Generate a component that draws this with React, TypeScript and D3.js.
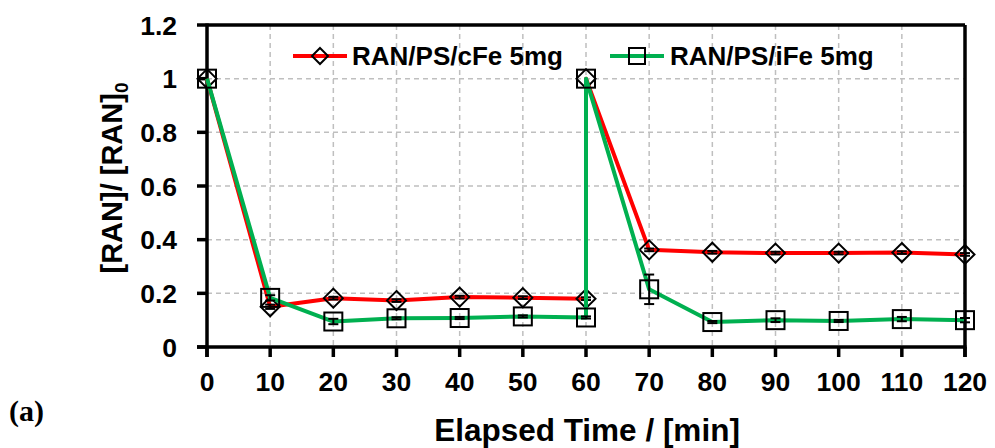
import React from "react";
import * as d3 from "d3";

const timesCFe = [0, 10, 20, 30, 40, 50, 60, 60, 70, 80, 90, 100, 110, 120];
const valuesCFe = [1, 0.15, 0.182, 0.173, 0.186, 0.184, 0.18, 1, 0.362, 0.353, 0.35, 0.35, 0.352, 0.345];
const errorsCFe = [0, 0.008, 0.005, 0.005, 0.005, 0.005, 0.005, 0, 0.005, 0.005, 0.005, 0.005, 0.005, 0.005];

const timesIFe = [0, 10, 20, 30, 40, 50, 60, 60, 70, 80, 90, 100, 110, 120];
const valuesIFe = [1, 0.183, 0.095, 0.107, 0.108, 0.114, 0.11, 1, 0.215, 0.093, 0.1, 0.097, 0.104, 0.1];
const errorsIFe = [0, 0.01, 0.01, 0.004, 0.004, 0.004, 0.004, 0, 0.055, 0.004, 0.007, 0.004, 0.008, 0.008];

const xTicks = [0, 10, 20, 30, 40, 50, 60, 70, 80, 90, 100, 110, 120];
const yTicks = [0, 0.2, 0.4, 0.6, 0.8, 1, 1.2];
const yTickLabels = ["0", "0.2", "0.4", "0.6", "0.8", "1", "1.2"];
const seriesNames = ["RAN/PS/cFe 5mg", "RAN/PS/iFe 5mg"];

const W = 995;
const H = 448;
const left = 207;
const right = 965;
const top = 25;
const bottom = 347;

export default function App() {
  const x = d3.scaleLinear().domain([0, 120]).range([left, right]);
  const y = d3.scaleLinear().domain([0, 1.2]).range([bottom, top]);
  const line = d3
    .line<[number, number]>()
    .x((d) => x(d[0]))
    .y((d) => y(d[1]));

  const red = "#FF0000";
  const green = "#00B050";
  const font = "Arial, 'Liberation Sans', sans-serif";

  const ptsC: [number, number][] = timesCFe.map((t, i) => [t, valuesCFe[i]]);
  const ptsI: [number, number][] = timesIFe.map((t, i) => [t, valuesIFe[i]]);

  const diamond = (cx: number, cy: number, r: number) =>
    `M${cx},${cy - r}L${cx + r},${cy}L${cx},${cy + r}L${cx - r},${cy}Z`;

  const errBar = (t: number, v: number, e: number, key: string) => {
    if (e <= 0) return null;
    const cx = x(t);
    const y1 = y(v + e);
    const y2 = y(v - e);
    return (
      <g key={key} stroke="#000" strokeWidth={2}>
        <line x1={cx} x2={cx} y1={y1} y2={y2} />
        <line x1={cx - 5} x2={cx + 5} y1={y1} y2={y1} />
        <line x1={cx - 5} x2={cx + 5} y1={y2} y2={y2} />
      </g>
    );
  };

  return (
    <svg
      width={W}
      height={H}
      style={{ position: "absolute", left: 0, top: 0, background: "#fff" }}
    >
      <rect x={0} y={0} width={W} height={H} fill="#fff" />
      {/* grid */}
      <g stroke="#BFBFBF" strokeWidth={1.5} strokeDasharray="5,4">
        {xTicks.slice(1, -1).map((t) => (
          <line key={"gx" + t} x1={x(t)} x2={x(t)} y1={top} y2={bottom} />
        ))}
        {yTicks.slice(1, -1).map((t) => (
          <line key={"gy" + t} x1={left} x2={right} y1={y(t)} y2={y(t)} />
        ))}
      </g>
      {/* frame */}
      <g stroke="#000" strokeWidth={3.5} fill="none">
        <line x1={left} x2={right} y1={top} y2={top} />
        <line x1={right} x2={right} y1={top} y2={bottom + 10} />
        <line x1={left} x2={left} y1={top - 1.5} y2={bottom + 10} />
        <line x1={left - 10} x2={right + 1.5} y1={bottom} y2={bottom} />
        {xTicks.map((t) => (
          <line key={"tx" + t} x1={x(t)} x2={x(t)} y1={bottom} y2={bottom + 10} />
        ))}
        {yTicks.map((t) => (
          <line key={"ty" + t} x1={left - 10} x2={left} y1={y(t)} y2={y(t)} />
        ))}
      </g>
      {/* tick labels */}
      <g fontFamily={font} fontWeight="bold" fontSize={26.5} fill="#000">
        {yTicks.map((t, i) => (
          <text key={"ly" + t} x={177} y={y(t)} dy="0.36em" textAnchor="end">
            {yTickLabels[i]}
          </text>
        ))}
        {xTicks.map((t) => (
          <text key={"lx" + t} x={x(t)} y={391} textAnchor="middle">
            {t}
          </text>
        ))}
      </g>
      {/* series cFe */}
      <path d={line(ptsC) || ""} fill="none" stroke={red} strokeWidth={4} strokeLinejoin="round" />
      {ptsC.map((p, i) => errBar(p[0], p[1], errorsCFe[i], "ec" + i))}
      {ptsC.map((p, i) => (
        <path key={"mc" + i} d={diamond(x(p[0]), y(p[1]), 9.5)} fill="none" stroke="#000" strokeWidth={2} />
      ))}
      {/* series iFe */}
      <path d={line(ptsI) || ""} fill="none" stroke={green} strokeWidth={4} strokeLinejoin="round" />
      {ptsI.map((p, i) => errBar(p[0], p[1], errorsIFe[i], "ei" + i))}
      {ptsI.map((p, i) => (
        <rect
          key={"mi" + i}
          x={x(p[0]) - 9}
          y={y(p[1]) - 9}
          width={18}
          height={18}
          fill="none"
          stroke="#000"
          strokeWidth={2}
        />
      ))}
      {/* legend */}
      <g>
        <line x1={293} x2={347} y1={56} y2={56} stroke={red} strokeWidth={4} />
        <path d={diamond(320, 56, 8)} fill="none" stroke="#000" strokeWidth={2} />
        <text x={352} y={65} fontFamily={font} fontWeight="bold" fontSize={26}>
          {seriesNames[0]}
        </text>
        <line x1={610} x2={664} y1={56} y2={56} stroke={green} strokeWidth={4} />
        <rect x={629} y={48} width={16} height={16} fill="none" stroke="#000" strokeWidth={2} />
        <text x={670} y={65} fontFamily={font} fontWeight="bold" fontSize={26}>
          {seriesNames[1]}
        </text>
      </g>
      {/* axis titles */}
      <text
        x={587}
        y={441}
        textAnchor="middle"
        fontFamily={font}
        fontWeight="bold"
        fontSize={31.5}
      >
        Elapsed Time / [min]
      </text>
      <text
        transform="translate(122,178) rotate(-90)"
        textAnchor="middle"
        fontFamily={font}
        fontWeight="bold"
        fontSize={29}
      >
        [RAN]/ [RAN]
        <tspan fontSize={19} dy={6}>0</tspan>
      </text>
      <text x={9} y={421} fontFamily="'Times New Roman', 'Liberation Serif', serif" fontWeight="bold" fontSize={30}>
        (a)
      </text>
    </svg>
  );
}
